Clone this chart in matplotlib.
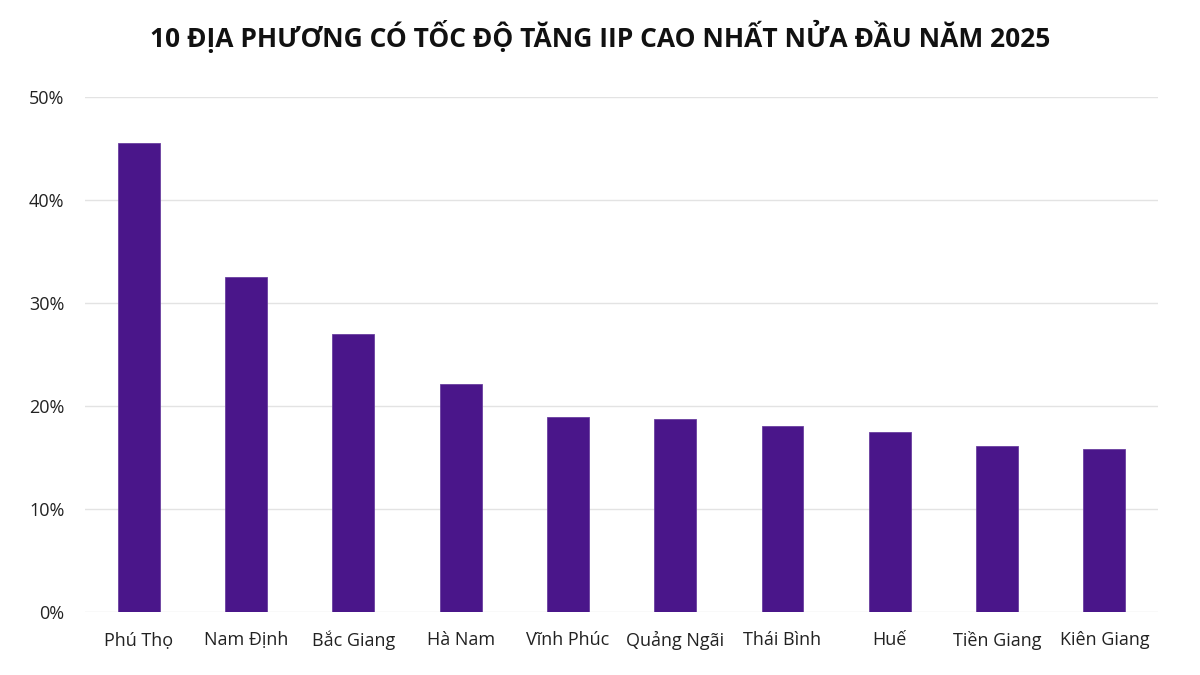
import matplotlib.pyplot as plt
from matplotlib.ticker import FuncFormatter

# Tốc độ tăng IIP 6 tháng đầu năm 2025 (%)
provinces = ['Phú Thọ', 'Nam Định', 'Bắc Giang', 'Hà Nam', 'Vĩnh Phúc',
             'Quảng Ngãi', 'Thái Bình', 'Huế', 'Tiền Giang', 'Kiên Giang']
growth = [45.5, 32.5, 27.0, 22.1, 18.9, 18.7, 18.0, 17.5, 16.1, 15.8]
yticks = [0, 10, 20, 30, 40, 50]

BAR_COLOR = '#4a168a'

plt.rcParams['font.family'] = ['Open Sans', 'DejaVu Sans']

fig = plt.figure(figsize=(12, 6.75), dpi=100)
ax = fig.add_axes([0.071, 0.094, 0.894, 0.762])

x = range(len(provinces))
ax.bar(x, growth, width=0.39, color=BAR_COLOR, edgecolor='#6a3fa0', linewidth=0.6, zorder=3)

ax.set_ylim(0, 50)
ax.set_xlim(-0.5, len(provinces) - 0.5)
ax.set_yticks(yticks)
ax.yaxis.set_major_formatter(FuncFormatter(lambda v, _: f'{v:.0f}%'))
ax.set_xticks(list(x))
ax.set_xticklabels(provinces)

ax.grid(axis='y', color='#e3e3e3', linewidth=1, zorder=0)
for s in ax.spines.values():
    s.set_visible(False)
ax.tick_params(axis='both', length=0, labelsize=13, colors='#222222')
ax.tick_params(axis='y', pad=15)
ax.tick_params(axis='x', pad=14)

fig.suptitle('10 ĐỊA PHƯƠNG CÓ TỐC ĐỘ TĂNG IIP CAO NHẤT NỬA ĐẦU NĂM 2025',
             x=0.5, y=0.97, fontsize=19, fontweight='bold', color='#111111')

fig.savefig('out.png', dpi=100)
